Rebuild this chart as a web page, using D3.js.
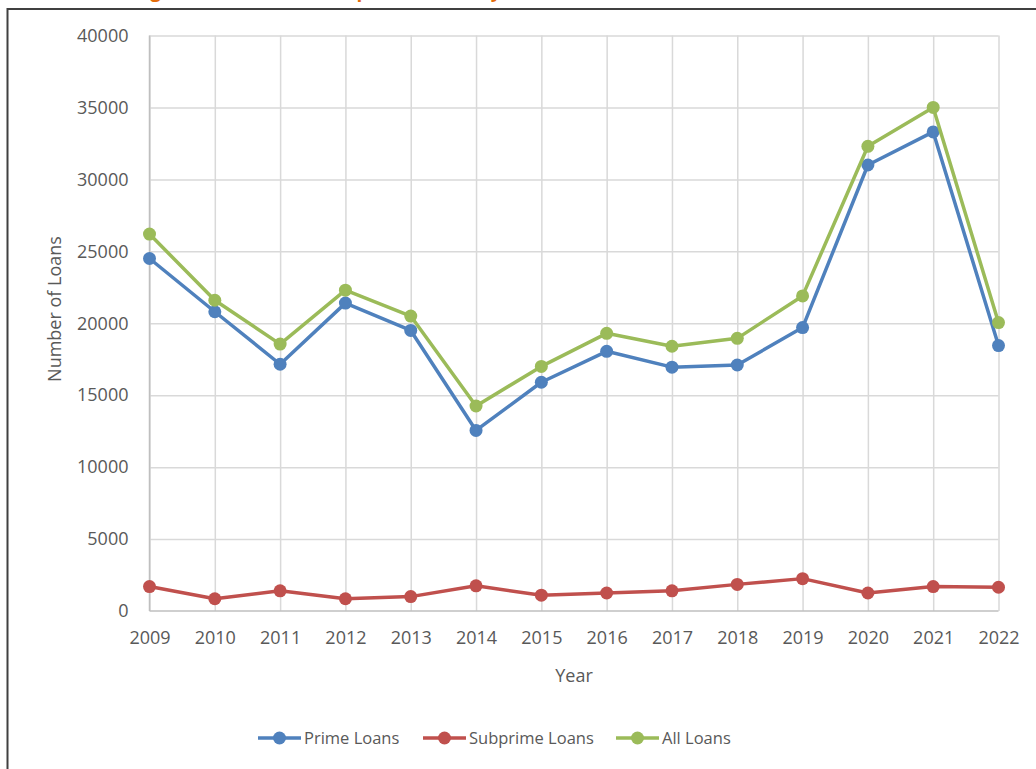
<!DOCTYPE html>
<html>
<head>
<meta charset="utf-8">
<script src="https://cdn.jsdelivr.net/npm/d3@7"></script>
<style>
  html, body { margin: 0; padding: 0; background: #ffffff; }
  svg { display: block; }
  text { font-family: "Open Sans", "Noto Sans", sans-serif; }
</style>
</head>
<body>
<svg id="chart" width="1036" height="769"></svg>
<script>
// Loans originated per year
const years = [2009, 2010, 2011, 2012, 2013, 2014, 2015, 2016, 2017, 2018, 2019, 2020, 2021, 2022];
const primeLoans    = [24500, 20800, 17150, 21400, 19500, 12550, 15900, 18050, 16950, 17100, 19700, 31000, 33300, 18450];
const subprimeLoans = [1700, 850, 1400, 850, 1000, 1750, 1100, 1250, 1400, 1850, 2250, 1250, 1700, 1650];
const allLoans      = [26200, 21600, 18550, 22300, 20500, 14250, 17000, 19300, 18400, 18950, 21900, 32300, 35000, 20050];
const yTicks = [0, 5000, 10000, 15000, 20000, 25000, 30000, 35000, 40000];
const seriesNames = ["Prime Loans", "Subprime Loans", "All Loans"];
const seriesColors = ["#4F81BD", "#C0504D", "#9BBB59"];

const series = [primeLoans, subprimeLoans, allLoans].map((vals, i) => ({
  name: seriesNames[i],
  color: seriesColors[i],
  values: vals.map((v, j) => ({ year: years[j], value: v }))
}));

const svg = d3.select("#chart");

// Title sits above the frame
svg.append("text")
  .attr("x", 134).attr("y", -3)
  .attr("fill", "#E46C0A")
  .attr("font-size", 19).attr("font-weight", "bold")
  .text("Figure 1: Prime and Subprime Loans by Year, 2009–2022");

// Chart frame
svg.append("rect")
  .attr("x", 7.5).attr("y", 9)
  .attr("width", 1040).attr("height", 770)
  .attr("fill", "#ffffff")
  .attr("stroke", "#404040").attr("stroke-width", 2);

const x = d3.scalePoint().domain(years).range([149.5, 998.5]);
const y = d3.scaleLinear().domain([0, 40000]).range([611, 35.5]);

const g = svg.append("g");

// Horizontal gridlines
g.append("g")
  .attr("transform", "translate(149.5,0)")
  .call(d3.axisLeft(y).tickValues(yTicks.filter(t => t > 0)).tickSize(-(998.5 - 149.5)).tickFormat(""))
  .call(s => s.select(".domain").remove())
  .call(s => s.selectAll("line").attr("stroke", "#D9D9D9").attr("stroke-width", 1.5));

// Vertical gridlines
g.append("g")
  .attr("transform", "translate(0,611)")
  .call(d3.axisBottom(x).tickSize(-(611 - 35.5)).tickFormat(""))
  .call(s => s.select(".domain").remove())
  .call(s => s.selectAll("line").attr("stroke", "#D9D9D9").attr("stroke-width", 1.5));

// Axis lines
g.append("line").attr("x1", 149.5).attr("x2", 149.5).attr("y1", 35.5).attr("y2", 611)
  .attr("stroke", "#BFBFBF").attr("stroke-width", 1.5);
g.append("line").attr("x1", 149.5).attr("x2", 998.5).attr("y1", 611).attr("y2", 611)
  .attr("stroke", "#BFBFBF").attr("stroke-width", 1.5);

// Y tick labels
g.append("g")
  .attr("transform", "translate(149.5,0)")
  .call(d3.axisLeft(y).tickValues(yTicks).tickSize(0).tickPadding(21).tickFormat(d3.format("d")))
  .call(s => s.select(".domain").remove())
  .call(s => s.selectAll("text")
    .attr("font-family", "'Open Sans', sans-serif")
    .attr("font-size", 18).attr("fill", "#595959"));

// X tick labels
g.append("g")
  .attr("transform", "translate(0,611)")
  .call(d3.axisBottom(x).tickSize(0).tickPadding(20).tickFormat(d3.format("d")))
  .call(s => s.select(".domain").remove())
  .call(s => s.selectAll("text")
    .attr("font-family", "'Open Sans', sans-serif")
    .attr("font-size", 18).attr("fill", "#595959"));

// Axis titles
svg.append("text")
  .attr("transform", "translate(61,309) rotate(-90)")
  .attr("text-anchor", "middle")
  .attr("font-size", 18).attr("fill", "#595959")
  .text("Number of Loans");
svg.append("text")
  .attr("x", 574).attr("y", 682)
  .attr("text-anchor", "middle")
  .attr("font-size", 18).attr("fill", "#595959")
  .text("Year");

// Series lines and markers
const line = d3.line().x(d => x(d.year)).y(d => y(d.value));
const sg = g.selectAll(".series").data(series).join("g").attr("class", "series");
sg.append("path")
  .attr("d", d => line(d.values))
  .attr("fill", "none")
  .attr("stroke", d => d.color)
  .attr("stroke-width", 3.5)
  .attr("stroke-linejoin", "round");
sg.selectAll("circle")
  .data(d => d.values.map(v => ({ ...v, color: d.color })))
  .join("circle")
  .attr("cx", d => x(d.year))
  .attr("cy", d => y(d.value))
  .attr("r", 6.5)
  .attr("fill", d => d.color);

// Legend
const legendX = [258, 423, 616];
const legend = svg.append("g").selectAll("g").data(series).join("g")
  .attr("transform", (d, i) => `translate(${legendX[i]},738)`);
legend.append("line")
  .attr("x1", 0).attr("x2", 43)
  .attr("stroke", d => d.color).attr("stroke-width", 3.5);
legend.append("circle")
  .attr("cx", 21.5).attr("r", 6.5)
  .attr("fill", d => d.color);
legend.append("text")
  .attr("x", 46).attr("dy", "0.35em")
  .attr("font-size", 16.5).attr("fill", "#595959")
  .text(d => d.name);
</script>
</body>
</html>
